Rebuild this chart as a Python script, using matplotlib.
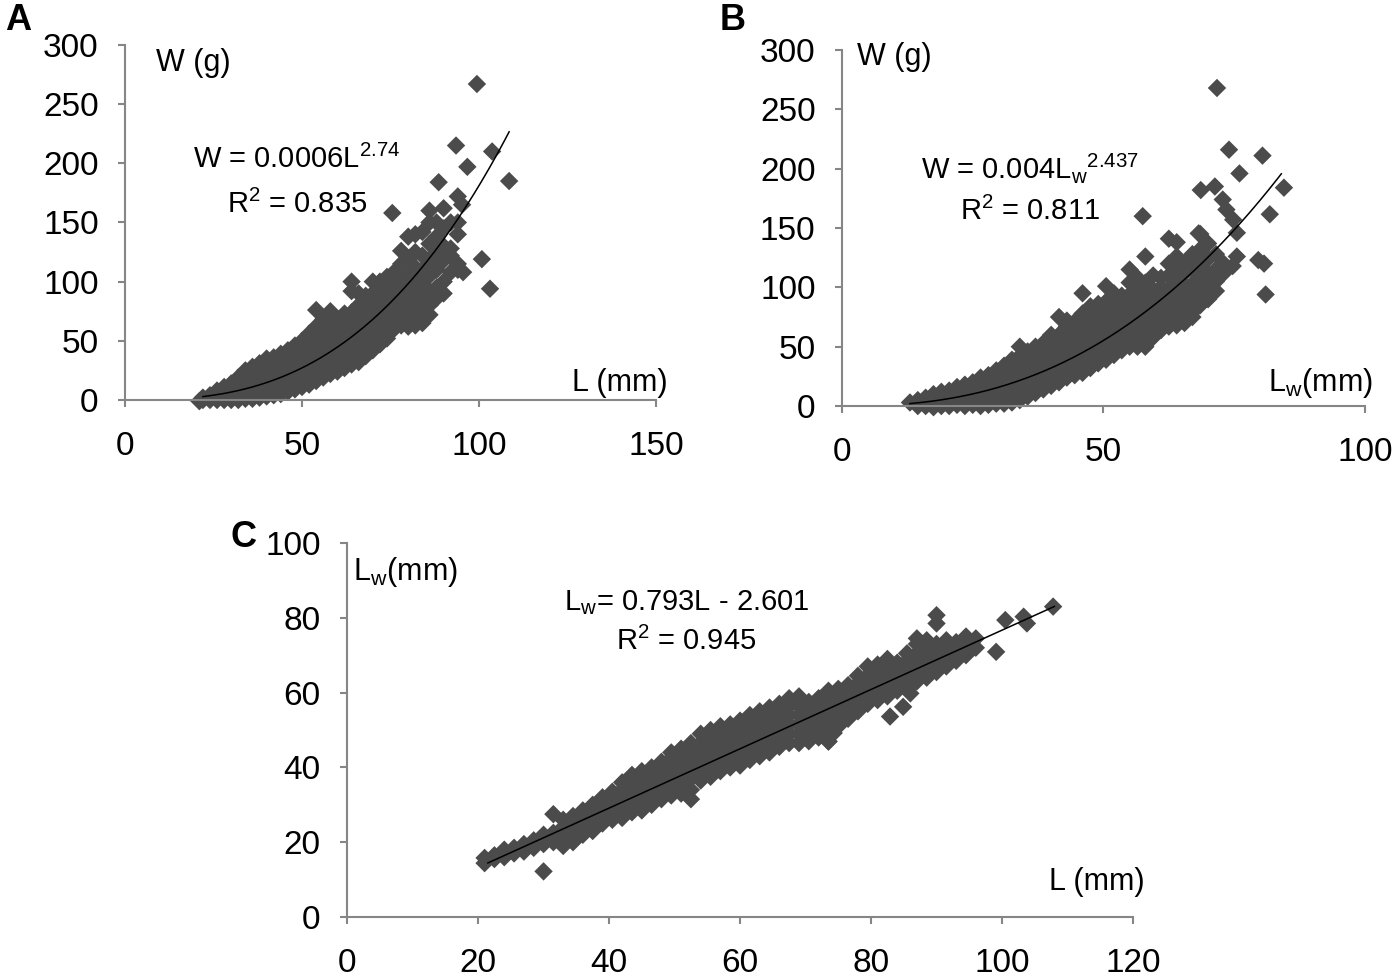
import matplotlib
matplotlib.use("Agg")
import matplotlib.pyplot as plt
import numpy as np

plt.rcParams['font.family'] = ['Liberation Sans', 'DejaVu Sans']
plt.rcParams['mathtext.default'] = 'regular'

# ---- panel A: W vs L (column layout) ----
A_L = [22, 24, 26, 28, 30, 32, 34, 36, 38, 40, 42, 44, 46, 48, 50, 52, 54, 56,
       58, 60, 62, 64, 66, 68, 70, 72, 74, 76, 78, 80, 82, 84, 86, 88, 90, 92, 94]
A_W = [[0, 2], [0, 4], [0, 4, 8], [0, 5, 11], [0, 7, 14], [0, 5, 12, 19],
       [1, 9, 17, 25], [1, 6, 14, 22, 28], [2, 10, 18, 26, 31],
       [3, 8, 16, 24, 32, 35], [4, 12, 20, 28, 36], [5, 10, 18, 26, 34, 39],
       [7, 15, 23, 31, 38, 42], [9, 14, 22, 30, 38, 46], [11, 19, 27, 35, 43, 50],
       [13, 18, 26, 34, 42, 50, 56], [16, 24, 32, 40, 48, 56, 62, 76],
       [19, 23, 31, 39, 47, 55, 63, 68], [22, 30, 38, 46, 54, 62, 70, 75],
       [24, 28, 36, 44, 52, 60, 68], [27, 35, 43, 51, 59, 67, 73],
       [30, 34, 42, 50, 58, 66, 74, 92, 100], [32, 40, 48, 56, 64, 72, 80, 90],
       [37, 41, 49, 57, 65, 73, 81, 88], [42, 50, 58, 66, 74, 82, 90, 100],
       [47, 51, 59, 67, 75, 83, 91, 100], [52, 60, 68, 76, 84, 92, 104],
       [60, 64, 72, 80, 88, 96, 108], [63, 71, 79, 87, 95, 105, 115, 126],
       [62, 68, 77, 86, 96, 106, 118, 138], [63, 72, 82, 92, 102, 112, 125, 140],
       [65, 75, 88, 98, 110, 122, 142], [72, 80, 92, 105, 118, 132, 150, 160],
       [86, 95, 110, 125, 138, 150], [90, 100, 118, 130, 145, 162],
       [108, 122, 128, 150], [110, 115, 140, 150, 172]]
A_out_L = [21, 75.5, 88.6, 93.5, 96.7, 99.4, 103.7, 108.5, 100.8, 103.1, 95.5, 95.2]
A_out_W = [-1, 158, 184, 215, 197, 267, 210, 185, 119, 94, 108, 165]
A_a, A_b = 0.0006, 2.74          # W = a L^b
A_fit_range = (22, 108.5)

# ---- panel B: W vs Lw ----
B_L = [13, 14.5, 16, 17.5, 19, 20.5, 22, 23.5, 25, 26.5, 28, 29.5, 31, 32.5, 34,
       35.5, 37, 38.5, 40, 41.5, 43, 44.5, 46, 47.5, 49, 50.5, 52, 53.5, 55, 56.5,
       58, 59.5, 61, 62.5, 64, 65.5, 67, 68.5, 70, 71.5, 73]
B_W = [[3], [0, 5], [0, 7], [-1, 4, 10], [0, 6, 12], [0, 5, 13], [1, 8, 16],
       [0, 5, 12, 18], [1, 9, 17, 20], [0, 5, 13, 21, 24], [1, 9, 17, 26],
       [2, 6, 14, 22, 30], [2, 10, 18, 26, 34], [3, 7, 15, 23, 31, 39],
       [5, 12, 20, 28, 36, 42, 50], [8, 16, 24, 32, 40, 46],
       [11, 15, 23, 31, 39, 47, 50], [14, 22, 30, 38, 46, 53],
       [17, 21, 29, 37, 45, 53, 60], [20, 28, 36, 44, 52, 60, 75],
       [24, 28, 36, 44, 52, 60, 67, 72], [26, 34, 42, 50, 58, 66, 71],
       [28, 32, 40, 48, 56, 64, 72, 78, 95], [32, 40, 48, 56, 64, 72, 80, 84],
       [36, 40, 48, 56, 64, 72, 80, 86], [39, 47, 55, 63, 71, 79, 88, 101],
       [43, 47, 55, 63, 71, 79, 87, 95], [47, 55, 63, 71, 79, 87, 93],
       [50, 54, 62, 70, 78, 86, 94, 104, 115], [50, 58, 66, 74, 82, 90, 100, 108],
       [50, 54, 62, 70, 78, 86, 94, 104, 126], [58, 66, 74, 82, 90, 98, 110],
       [64, 68, 76, 84, 92, 100, 108], [67, 75, 83, 91, 99, 110, 120, 141],
       [68, 72, 80, 88, 96, 104, 114, 126, 138], [70, 78, 86, 94, 102, 112, 120],
       [75, 79, 87, 95, 103, 115, 128], [85, 93, 101, 110, 120, 132, 145],
       [90, 94, 102, 112, 124, 137], [97, 105, 115, 128], [112, 120]]
B_out_L = [57.5, 68.6, 71.3, 71.7, 72.8, 73.5, 74, 74.8, 75.5, 76, 80.4, 81.8,
           84.5, 75.5, 74.7, 79.6, 80.7, 81, 70.5, 68.2, 69.7]
B_out_W = [160, 182, 185, 268, 174, 165.5, 216, 157, 146, 196, 211, 161.6,
           184, 126, 118, 123, 120, 94, 95.5, 145.5, 137]
B_a, B_b = 0.004, 2.437          # W = a Lw^b
B_fit_range = (13, 84)

# ---- panel C: Lw vs L ----
C_L = [21, 22.5, 24, 25.5, 27, 28.5, 30, 31.5, 33, 34.5, 36, 37.5, 39, 40.5, 42,
       43.5, 45, 46.5, 48, 49.5, 51, 52.5, 54, 55.5, 57, 58.5, 60, 61.5, 63, 64.5,
       66, 67.5, 69, 70.5, 72, 73.5, 75, 76.5, 78, 79.5, 81, 82.5, 84, 85.5, 87,
       88.5, 90, 91.5, 93, 94.5, 96]
C_Lw = [[14.4, 15.8], [15.5, 16.5], [16, 18], [17, 18.5], [17.5, 19.5],
        [18.5, 20.5], [19.5, 22, 12.2], [20, 22.5, 27.5], [19, 21.5, 24, 26],
        [20, 22.5, 25, 27], [22, 24.5, 27, 28.5], [23, 25.5, 28, 30],
        [25, 27.5, 30, 32], [26, 28.5, 31, 33.5], [26.5, 29, 31.5, 34, 36],
        [28, 30.5, 33, 35.5, 38], [28.5, 31, 33.5, 36, 39], [30, 32.5, 35, 37.5, 40],
        [31.5, 34, 36.5, 39, 41.5], [32.5, 35, 37.5, 40, 42.5, 44],
        [33, 36, 38.5, 41, 43.5, 45], [31.5, 34, 37, 39.5, 42, 44.5, 46.5],
        [36.5, 39, 41.5, 44, 46.5, 49], [37.5, 40, 42.5, 45, 47.5, 50],
        [39, 41.5, 44, 46.5, 49, 51], [40, 42.5, 45, 47.5, 50, 51.5],
        [40.5, 43, 45.5, 48, 50.5, 52.5], [42, 44.5, 47, 49.5, 52, 54],
        [43, 45.5, 48, 50.5, 53, 55], [44, 46.5, 49, 51.5, 54, 56],
        [45.5, 48, 50.5, 53, 55.5, 57], [46.5, 49, 51.5, 54, 56.5, 58.5],
        [46.5, 49, 51.5, 54, 56.5, 59], [47, 49.5, 52, 54.5, 57.5],
        [48, 51, 53.5, 56, 58.5], [47, 50, 52.5, 55, 57.5, 60.5],
        [51, 53.5, 56, 58.5, 61], [53, 55.5, 58, 60.5, 62],
        [55, 57.5, 60, 62.5, 64.5], [57, 59.5, 62, 64.5, 67],
        [58, 60.5, 63, 65.5, 67.5], [59, 61.5, 64, 66.5, 69],
        [60.5, 63, 65.5, 68], [61, 63.5, 66, 68.5, 70.5],
        [63, 65.5, 68, 70.5, 73, 74.5], [64, 66.5, 69, 71.5, 74],
        [65.5, 68, 70.5, 73, 78.5, 80.7], [67, 69.5, 72, 74], [68.5, 71, 73.5],
        [70, 72.5, 75], [72, 74.5]]
C_out_L = [82.9, 84.9, 86, 73.5, 74.3, 99.1, 100.5, 103.3, 103.8, 107.8]
C_out_Lw = [53.6, 56.2, 59.8, 46.9, 49.2, 70.9, 79.4, 80.3, 78.5, 83]
C_m, C_c = 0.793, -2.601         # Lw = m L + c
C_fit_range = (21.5, 108)

MARK = '#4b4b4b'
AXC = '#868686'
MSIZE = 88


def flatten(cols_x, cols_y, out_x, out_y):
    xs, ys = [], []
    for x, col in zip(cols_x, cols_y):
        xs += [x] * len(col)
        ys += col
    return xs + list(out_x), ys + list(out_y)


def style(ax, xmax, ymax, xstep, ystep):
    ax.set_xlim(0, xmax)
    ax.set_ylim(0, ymax)
    ax.set_xticks(np.arange(0, xmax + 1, xstep))
    ax.set_yticks(np.arange(0, ymax + 1, ystep))
    for s in ['top', 'right']:
        ax.spines[s].set_visible(False)
    for s in ['left', 'bottom']:
        ax.spines[s].set_color(AXC)
        ax.spines[s].set_linewidth(1.5)
    ax.tick_params(axis='both', direction='out', length=5, width=1.5,
                   color=AXC, labelsize=24)
    ax.tick_params(axis='x', pad=17)
    ax.tick_params(axis='y', pad=14)
    ax.patch.set_visible(False)


fig = plt.figure(figsize=(14, 9.77), dpi=100)
axA = fig.add_axes([0.0893, 0.5906, 0.3793, 0.3634])
axB = fig.add_axes([0.6014, 0.5844, 0.3736, 0.3644])
axC = fig.add_axes([0.2479, 0.0614, 0.5614, 0.3828])

LABFS = 22
EQFS = 21

# A
x, y = flatten(A_L, A_W, A_out_L, A_out_W)
axA.scatter(x, y, marker='D', s=MSIZE, color=MARK, edgecolors='none', clip_on=False, zorder=2)
lx = np.linspace(*A_fit_range, 200)
axA.plot(lx, A_a * lx ** A_b, color='black', lw=1.1, zorder=3)
style(axA, 150, 300, 50, 50)
axA.text(19.2, 285, 'W (g)', fontsize=LABFS, ha='center', va='center')
axA.text(139.8, 14.5, 'L (mm)', fontsize=LABFS, ha='center', va='center')
axA.text(48.6, 203, r'W = 0.0006L$^{2.74}$', fontsize=EQFS, ha='center', va='center')
axA.text(48.6, 165, r'R$^{2}$ = 0.835', fontsize=EQFS, ha='center', va='center')

# B
x, y = flatten(B_L, B_W, B_out_L, B_out_W)
axB.scatter(x, y, marker='D', s=MSIZE, color=MARK, edgecolors='none', clip_on=False, zorder=2)
lx = np.linspace(*B_fit_range, 200)
axB.plot(lx, B_a * lx ** B_b, color='black', lw=1.1, zorder=3)
style(axB, 100, 300, 50, 50)
axB.text(10.1, 294, 'W (g)', fontsize=LABFS, ha='center', va='center')
axB.text(91.4, 19.5, r'L$_{w}$(mm)', fontsize=LABFS, ha='center', va='center')
axB.text(35.9, 200.5, r'W = 0.004L$_{w}$$^{2.437}$', fontsize=EQFS, ha='center', va='center')
axB.text(35.9, 164, r'R$^{2}$ = 0.811', fontsize=EQFS, ha='center', va='center')

# C
x, y = flatten(C_L, C_Lw, C_out_L, C_out_Lw)
axC.scatter(x, y, marker='D', s=MSIZE, color=MARK, edgecolors='none', clip_on=False, zorder=2)
lx = np.linspace(*C_fit_range, 50)
axC.plot(lx, C_m * lx + C_c, color='black', lw=1.1, zorder=3)
style(axC, 120, 100, 20, 20)
axC.text(8.9, 92.2, r'L$_{w}$(mm)', fontsize=LABFS, ha='center', va='center')
axC.text(114.5, 9.4, 'L (mm)', fontsize=LABFS, ha='center', va='center')
axC.text(51.8, 84.2, r'L$_{w}$= 0.793L - 2.601', fontsize=EQFS, ha='center', va='center')
axC.text(51.8, 73.8, r'R$^{2}$ = 0.945', fontsize=EQFS, ha='center', va='center')

for lab, fx, fy in [('A', 0.0129, 0.9795), ('B', 0.5236, 0.9795), ('C', 0.1736, 0.4503)]:
    fig.text(fx, fy, lab, fontsize=26, fontweight='bold', ha='center', va='center')

fig.savefig('out.png', dpi=100)
